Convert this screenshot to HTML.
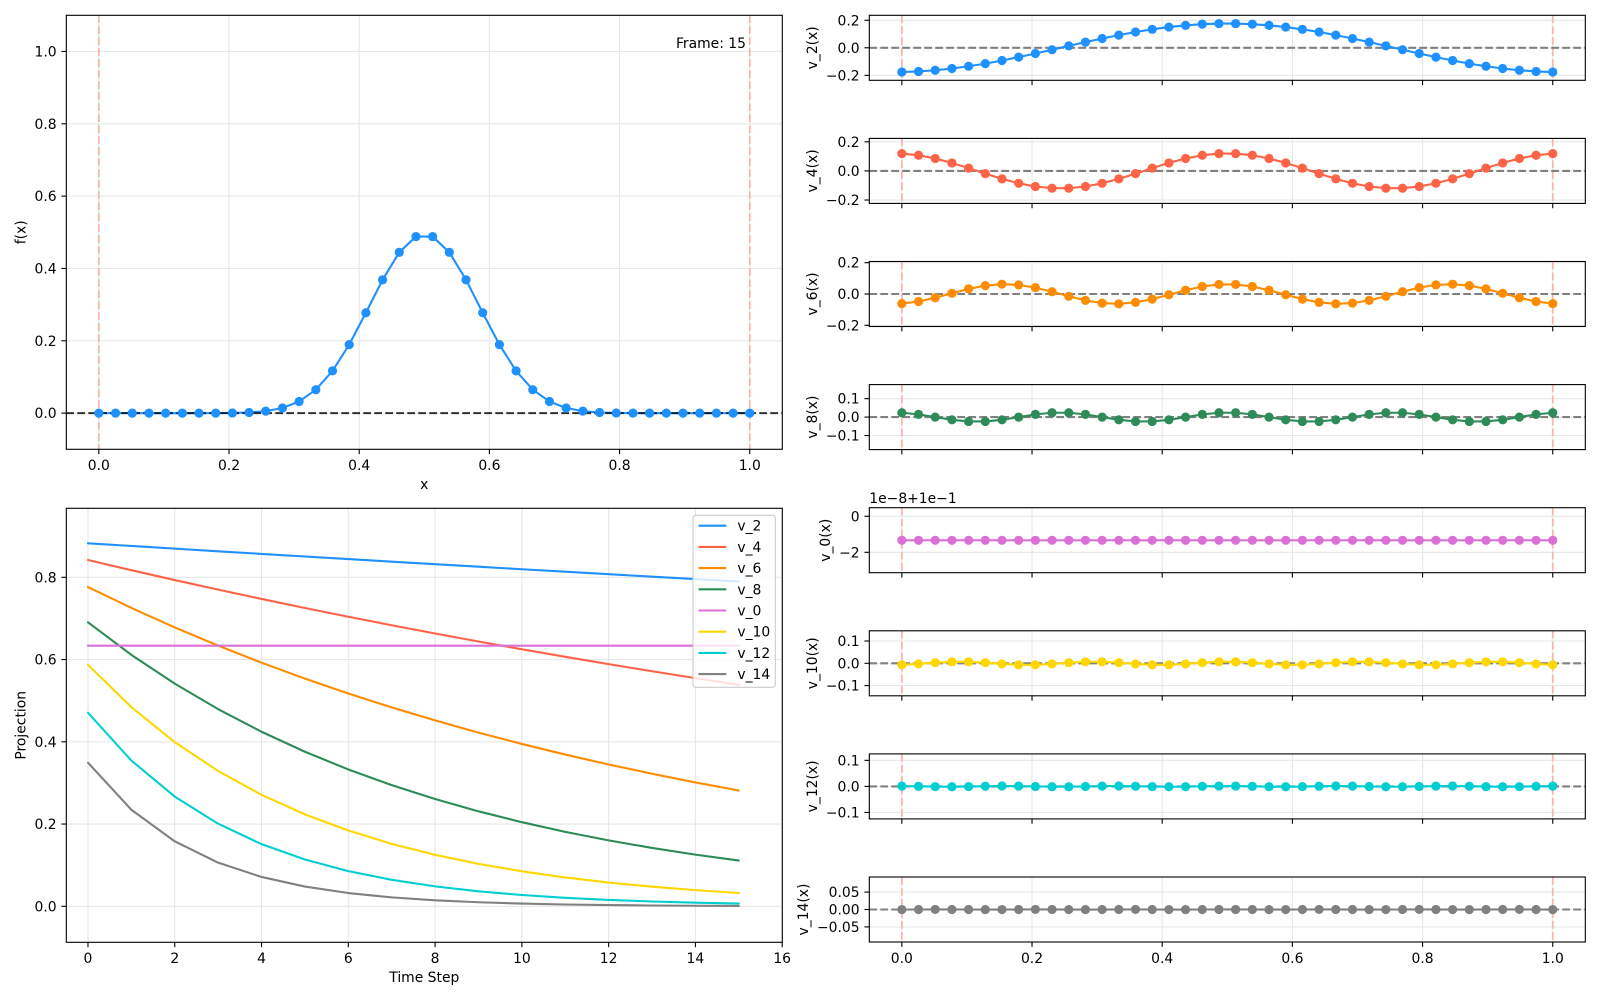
<!DOCTYPE html>
<html><head><meta charset="utf-8">
<style>
html,body{margin:0;padding:0;background:#fff;}
svg{display:block;}
text{font-family:"DejaVu Sans","Liberation Sans",sans-serif;font-size:13.9px;fill:#000;}
</style></head><body>
<svg id="c" width="1600" height="1000" viewBox="0 0 1600 1000" xmlns="http://www.w3.org/2000/svg">
<rect width="1600" height="1000" fill="#fff"/>
<g id="g1"></g>
<g id="g2"></g>
<g id="g3"></g>

<!-- legend -->
<rect x="693" y="515.3" width="82.3" height="172" rx="2.8" fill="#fff" fill-opacity="0.8" stroke="#cccccc" stroke-width="1.1"/>
<g stroke-width="2.08">
<line x1="698.5" y1="525.7" x2="726.3" y2="525.7" stroke="#1E90FF"/>
<line x1="698.5" y1="546.9" x2="726.3" y2="546.9" stroke="#FF6347"/>
<line x1="698.5" y1="568.1" x2="726.3" y2="568.1" stroke="#FF8C00"/>
<line x1="698.5" y1="589.3" x2="726.3" y2="589.3" stroke="#2E8B57"/>
<line x1="698.5" y1="610.5" x2="726.3" y2="610.5" stroke="#DA70D6"/>
<line x1="698.5" y1="631.7" x2="726.3" y2="631.7" stroke="#FFD700"/>
<line x1="698.5" y1="652.9" x2="726.3" y2="652.9" stroke="#00CED1"/>
<line x1="698.5" y1="674.1" x2="726.3" y2="674.1" stroke="#808080"/>
</g>
<text x="737.4" y="530.7">v_2</text>
<text x="737.4" y="551.9">v_4</text>
<text x="737.4" y="573.1">v_6</text>
<text x="737.4" y="594.3">v_8</text>
<text x="737.4" y="615.5">v_0</text>
<text x="737.4" y="636.7">v_10</text>
<text x="737.4" y="657.9">v_12</text>
<text x="737.4" y="679.1">v_14</text>

<!-- top-left panel text -->
<g text-anchor="end">
<text x="56.6" y="418.1">0.0</text>
<text x="56.6" y="345.8">0.2</text>
<text x="56.6" y="273.4">0.4</text>
<text x="56.6" y="201.1">0.6</text>
<text x="56.6" y="128.8">0.8</text>
<text x="56.6" y="56.5">1.0</text>
</g>
<g text-anchor="middle">
<text x="98.85" y="470">0.0</text>
<text x="229.0" y="470">0.2</text>
<text x="359.2" y="470">0.4</text>
<text x="489.4" y="470">0.6</text>
<text x="619.6" y="470">0.8</text>
<text x="749.75" y="470">1.0</text>
<text x="424.3" y="489">x</text>
<text x="25.6" y="232.3" transform="rotate(-90 25.6 232.3)">f(x)</text>
</g>
<text x="746" y="48" text-anchor="end">Frame: 15</text>

<!-- bottom-left panel text -->
<g text-anchor="end">
<text x="56.6" y="911.3">0.0</text>
<text x="56.6" y="829.05">0.2</text>
<text x="56.6" y="746.8">0.4</text>
<text x="56.6" y="664.55">0.6</text>
<text x="56.6" y="582.3">0.8</text>
</g>
<g text-anchor="middle">
<text x="87.97" y="963">0</text>
<text x="174.75" y="963">2</text>
<text x="261.5" y="963">4</text>
<text x="348.3" y="963">6</text>
<text x="435.1" y="963">8</text>
<text x="521.9" y="963">10</text>
<text x="608.6" y="963">12</text>
<text x="695.4" y="963">14</text>
<text x="782.2" y="963">16</text>
<text x="424.3" y="982">Time Step</text>
<text x="25.6" y="725.3" transform="rotate(-90 25.6 725.3)">Projection</text>
</g>

<!-- right panels text -->
<g text-anchor="end">
<text x="859.6" y="25.3">0.2</text>
<text x="859.6" y="52.8">0.0</text>
<text x="859.6" y="80.3">−0.2</text>

<text x="859.6" y="146.8">0.2</text>
<text x="859.6" y="175.9">0.0</text>
<text x="859.6" y="205.0">−0.2</text>

<text x="859.6" y="267.7">0.2</text>
<text x="859.6" y="299.0">0.0</text>
<text x="859.6" y="330.3">−0.2</text>

<text x="859.6" y="403.7">0.1</text>
<text x="859.6" y="422.1">0.0</text>
<text x="859.6" y="440.5">−0.1</text>

<text x="859.6" y="521.3">0</text>
<text x="859.6" y="557.3">−2</text>

<text x="859.6" y="646.0">0.1</text>
<text x="859.6" y="668.3">0.0</text>
<text x="859.6" y="690.6">−0.1</text>

<text x="859.6" y="765.4">0.1</text>
<text x="859.6" y="791.4">0.0</text>
<text x="859.6" y="817.4">−0.1</text>

<text x="859.6" y="897.1">0.05</text>
<text x="859.6" y="914.5">0.00</text>
<text x="859.6" y="931.9">−0.05</text>
</g>
<text x="869.3" y="503">1e−8+1e−1</text>
<g text-anchor="middle">
<text x="901.85" y="963">0.0</text>
<text x="1032.0" y="963">0.2</text>
<text x="1162.2" y="963">0.4</text>
<text x="1292.4" y="963">0.6</text>
<text x="1422.6" y="963">0.8</text>
<text x="1552.75" y="963">1.0</text>
<text x="817" y="47.8" transform="rotate(-90 817 47.8)">v_2(x)</text>
<text x="817" y="170.9" transform="rotate(-90 817 170.9)">v_4(x)</text>
<text x="817" y="294.0" transform="rotate(-90 817 294.0)">v_6(x)</text>
<text x="817" y="417.1" transform="rotate(-90 817 417.1)">v_8(x)</text>
<text x="830.2" y="540.2" transform="rotate(-90 830.2 540.2)">v_0(x)</text>
<text x="817" y="663.3" transform="rotate(-90 817 663.3)">v_10(x)</text>
<text x="817" y="786.4" transform="rotate(-90 817 786.4)">v_12(x)</text>
<text x="808.1" y="909.5" transform="rotate(-90 808.1 909.5)">v_14(x)</text>
</g>
</svg>
<script>
(function(){
const NS='http://www.w3.org/2000/svg';
function E(p,tag,a){const e=document.createElementNS(NS,tag);for(const k in a)e.setAttribute(k,a[k]);p.appendChild(e);return e;}
const G1=document.getElementById('g1'),G2=document.getElementById('g2'),G3=document.getElementById('g3');
const GRID='#e7e7e7',LW=2.08,RED='#F7B6AA',DASH='7.7 3.3';
function line(p,x1,y1,x2,y2,st,w,extra){const a={x1:x1,y1:y1,x2:x2,y2:y2,stroke:st,'stroke-width':w};if(extra)for(const k in extra)a[k]=extra[k];return E(p,'line',a);}
function frame(x,y,w,h){E(G3,'rect',{x:x,y:y,width:w,height:h,fill:'none',stroke:'#000','stroke-width':1.1});}
function xtick(x,y){line(G3,x,y,x,y+4.86,'#000',1.1);}
function ytick(x,y){line(G3,x-4.86,y,x,y,'#000',1.1);}
function poly(p,pts,col,w){E(p,'polyline',{points:pts.map(q=>q[0].toFixed(2)+','+q[1].toFixed(2)).join(' '),fill:'none',stroke:col,'stroke-width':w,'stroke-linejoin':'round','stroke-linecap':'round'});}
function dots(p,pts,col,r){pts.forEach(q=>E(p,'circle',{cx:q[0].toFixed(2),cy:q[1].toFixed(2),r:r,fill:col}));}

const N=40,tau=0.3;
const p0={2:0.8827,4:0.842,6:0.7764,8:0.6906,10:0.5875,12:0.4708,14:0.3492};
const P00=0.6337;
const lam=k=>2-2*Math.cos(Math.PI*k/N);
const pk=(k,t)=>p0[k]*Math.pow(1-tau*lam(k),t);
const uk=(k,j)=>Math.sqrt(2/N)*Math.cos(Math.PI*k*(j+0.5)/N)*(((k/2)%2===0)?1:-1);
const KS=[2,4,6,8,10,12,14];
const COL={2:'#1E90FF',4:'#FF6347',6:'#FF8C00',8:'#2E8B57',0:'#DA70D6',10:'#FFD700',12:'#00CED1',14:'#808080'};
const R=4.6;

/* ---------- top-left ---------- */
{
  const L=66.3,T=15.3,W=716,H=434;
  const X=v=>98.85+v*650.9, Y=v=>449.3-(v+0.1)*361.67;
  [0,0.2,0.4,0.6,0.8,1.0].forEach(v=>{line(G1,L,Y(v),L+W,Y(v),GRID,1.1);ytick(L,Y(v));});
  [0,0.2,0.4,0.6,0.8,1.0].forEach(v=>{line(G1,X(v),T,X(v),T+H,GRID,1.1);xtick(X(v),T+H);});
  line(G1,X(0),T,X(0),T+H,RED,1.8,{'stroke-dasharray':DASH});
  line(G1,X(1),T,X(1),T+H,RED,1.8,{'stroke-dasharray':DASH});
  const pts=[];
  for(let j=0;j<N;j++){
    let f=P00/Math.sqrt(N);
    KS.forEach(k=>{f+=pk(k,15)*uk(k,j);});
    pts.push([X(j/(N-1)),Y(f)]);
  }
  poly(G2,pts,COL[2],LW);
  line(G2,L,Y(0),L+W,Y(0),'#000',LW,{'stroke-dasharray':DASH,'stroke-opacity':0.8});
  dots(G2,pts,COL[2],R);
  frame(L,T,W,H);
}

/* ---------- bottom-left ---------- */
{
  const L=66.3,T=508.3,W=716,H=434;
  const X=t=>87.97+t*43.39, Y=v=>906.3-v*411.25;
  [0,0.2,0.4,0.6,0.8].forEach(v=>{line(G1,L,Y(v),L+W,Y(v),GRID,1.1);ytick(L,Y(v));});
  [0,2,4,6,8,10,12,14,16].forEach(t=>{line(G1,X(t),T,X(t),T+H,GRID,1.1);xtick(X(t),T+H);});
  const order=[2,4,6,8,0,10,12,14];
  order.forEach(k=>{
    const pts=[];
    for(let t=0;t<=15;t++){
      const v=(k===0)?P00:pk(k,t);
      pts.push([X(t),Y(v)]);
    }
    poly(G2,pts,COL[k],LW);
  });
  frame(L,T,W,H);
}

/* ---------- right panels ---------- */
{
  const L=869.3,W=716,H=65;
  const X=v=>901.85+v*650.9;
  const panels=[
    {k:2,T:15.3,s:137.65,ticks:[0.2,0,-0.2]},
    {k:4,T:138.4,s:145.6,ticks:[0.2,0,-0.2]},
    {k:6,T:261.5,s:156.5,ticks:[0.2,0,-0.2]},
    {k:8,T:384.6,s:184.4,ticks:[0.1,0,-0.1]},
    {k:0,T:507.7},
    {k:10,T:630.8,s:223,ticks:[0.1,0,-0.1]},
    {k:12,T:753.9,s:260.4,ticks:[0.1,0,-0.1]},
    {k:14,T:877.0,s:348,ticks:[0.05,0,-0.05]}
  ];
  panels.forEach(P=>{
    const T=P.T,C=T+32.5;
    let tys;
    if(P.k===0){tys=[516.3,552.3];}
    else{tys=P.ticks.map(v=>C-v*P.s);}
    tys.forEach(y=>{line(G1,L,y,L+W,y,GRID,1.1);ytick(L,y);});
    [0,0.2,0.4,0.6,0.8,1.0].forEach(v=>{line(G1,X(v),T,X(v),T+H,GRID,1.1);xtick(X(v),T+H);});
    line(G1,X(0),T,X(0),T+H,RED,1.8,{'stroke-dasharray':DASH});
    line(G1,X(1),T,X(1),T+H,RED,1.8,{'stroke-dasharray':DASH});
    if(P.k!==0) line(G1,L,C,L+W,C,'#808080',LW,{'stroke-dasharray':DASH});
    const pts=[];
    for(let j=0;j<N;j++){
      const y=(P.k===0)?540.3:(C-pk(P.k,15)*uk(P.k,j)*P.s);
      pts.push([X(j/(N-1)),y]);
    }
    poly(G2,pts,COL[P.k],LW);
    dots(G2,pts,COL[P.k],R);
    frame(L,T,W,H);
  });
}
})();
</script>
</body></html>
